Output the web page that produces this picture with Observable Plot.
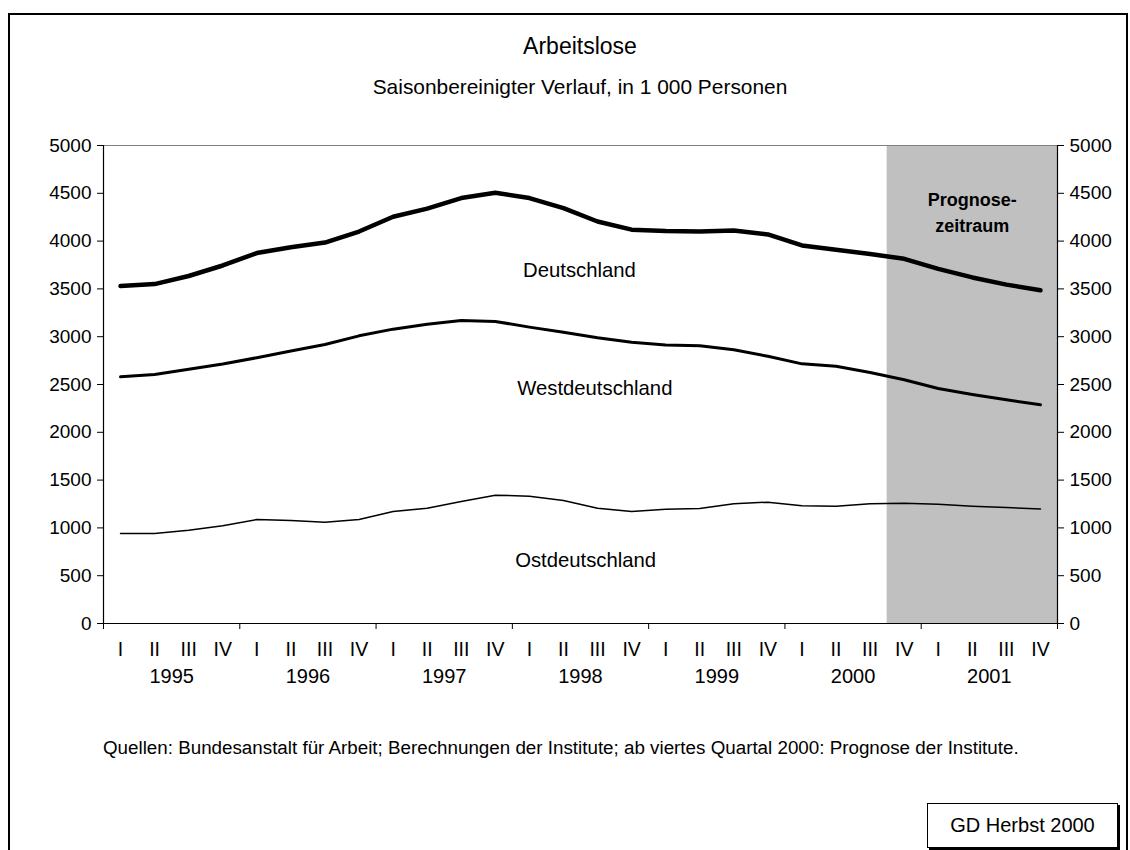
<!DOCTYPE html>
<html>
<head>
<meta charset="utf-8">
<script src="https://cdn.jsdelivr.net/npm/d3@7"></script>
<script src="https://cdn.jsdelivr.net/npm/@observablehq/plot@0.6"></script>
<style>
  html, body { margin: 0; padding: 0; background: #fff; overflow: hidden; }
  body { width: 1130px; height: 850px; position: relative; font-family: "Liberation Sans", Arial, sans-serif; color: #000; }
  #frame { position: absolute; left: 8px; top: 13px; width: 1120px; height: 900px; border: 2px solid #000; box-sizing: border-box; }
  #chart { position: absolute; left: 0; top: 0; }
  .title { position: absolute; left: 0; width: 1160px; text-align: center; }
  #t1 { top: 33px; font-size: 23px; }
  #t2 { top: 75px; font-size: 20.9px; }
  #caption { position: absolute; left: 103px; top: 737px; font-size: 18.8px; white-space: nowrap; }
  #stamp { position: absolute; left: 927px; top: 803px; width: 191px; height: 45px; box-sizing: border-box; border: 1px solid #000; background: #fff; box-shadow: 2px 2px 0 #000; font-size: 20px; text-align: center; line-height: 43px; }
</style>
</head>
<body>
<div id="frame"></div>
<div id="chart"></div>
<div class="title" id="t1">Arbeitslose</div>
<div class="title" id="t2">Saisonbereinigter Verlauf, in 1 000 Personen</div>
<div id="caption">Quellen: Bundesanstalt für Arbeit; Berechnungen der Institute; ab viertes Quartal 2000: Prognose der Institute.</div>
<div id="stamp">GD Herbst 2000</div>
<script>
// ---- data ----
const years = [1995, 1996, 1997, 1998, 1999, 2000, 2001];
const quarterNames = ["I", "II", "III", "IV"];
const deutschland = [3530, 3550, 3635, 3745, 3875, 3935, 3985, 4100, 4255, 4340, 4450, 4505, 4450, 4345, 4205, 4120, 4105, 4100, 4110, 4070, 3955, 3910, 3865, 3815, 3710, 3620, 3545, 3485];
const westdeutschland = [2580, 2605, 2660, 2715, 2780, 2850, 2918, 3009, 3079, 3131, 3169, 3160, 3100, 3047, 2990, 2943, 2912, 2905, 2863, 2795, 2716, 2690, 2625, 2550, 2458, 2395, 2340, 2288];
const ostdeutschland = [941, 941, 976, 1022, 1088, 1077, 1060, 1088, 1172, 1206, 1276, 1342, 1332, 1287, 1206, 1172, 1196, 1203, 1252, 1269, 1231, 1227, 1252, 1259, 1248, 1227, 1213, 1199];
const yTicks = [0, 500, 1000, 1500, 2000, 2500, 3000, 3500, 4000, 4500, 5000];
const forecastStart = {year: 2000, quarter: "IV"};
const seriesLabels = [
  {text: "Deutschland", q: 13.97, v: 3690},
  {text: "Westdeutschland", q: 14.42, v: 2460},
  {text: "Ostdeutschland", q: 14.15, v: 660}
];
const forecastLabel = {lines: ["Prognose-", "zeitraum"], q: 25.5, v: [4425, 4160]};

// ---- derived table ----
const rows = years.flatMap((yr, yi) => quarterNames.map((qn, qi) => {
  const i = yi * 4 + qi;
  return {i, x: i + 0.5, year: yr, q: qn, de: deutschland[i], west: westdeutschland[i], ost: ostdeutschland[i]};
}));
const nQ = rows.length;
const fStart = years.indexOf(forecastStart.year) * 4 + quarterNames.indexOf(forecastStart.quarter);
const yearBounds = years.map((_, i) => i * 4).concat([nQ]);
const yMax = yTicks[yTicks.length - 1];

const font = "Liberation Sans, Arial, sans-serif";

const chart = Plot.plot({
  width: 1130,
  height: 700,
  marginLeft: 103,
  marginRight: 73,
  marginTop: 145,
  marginBottom: 77,
  style: {fontFamily: font, fontSize: "19px", color: "#000", background: "transparent"},
  x: {type: "linear", domain: [0, nQ]},
  y: {domain: [0, yMax]},
  marks: [
    Plot.rect([{x1: fStart, x2: nQ}], {x1: "x1", x2: "x2", y1: 0, y2: yMax, fill: "#c0c0c0"}),
    Plot.ruleY([yMax], {stroke: "#808080", strokeWidth: 1}),
    Plot.ruleX([0, nQ], {stroke: "#000", strokeWidth: 1.2, y1: 0, y2: yMax}),
    Plot.ruleY([0], {stroke: "#000", strokeWidth: 1.2}),
    Plot.axisY({anchor: "left", ticks: yTicks, tickSize: 6, tickPadding: 6, label: null, fontSize: 19, tickFormat: d => String(d)}),
    Plot.axisY({anchor: "right", ticks: yTicks, tickSize: 6, tickPadding: 6, label: null, fontSize: 19, tickFormat: d => String(d)}),
    Plot.axisX({ticks: yearBounds, tickSize: 6, tickFormat: () => "", label: null}),
    Plot.text(rows, {x: "x", text: "q", frameAnchor: "bottom", dy: 26, fontSize: 19.5, lineAnchor: "middle"}),
    Plot.text(years, {x: (d, i) => i * 4 + 2, text: d => String(d), frameAnchor: "bottom", dy: 53, fontSize: 20, lineAnchor: "middle"}),
    Plot.line(rows, {x: "x", y: "ost", stroke: "#000", strokeWidth: 1.5, curve: "linear"}),
    Plot.line(rows, {x: "x", y: "west", stroke: "#000", strokeWidth: 3, curve: "linear"}),
    Plot.line(rows, {x: "x", y: "de", stroke: "#000", strokeWidth: 4.5, curve: "linear"}),
    Plot.text(seriesLabels, {x: "q", y: "v", text: "text", fontSize: 20.3, lineAnchor: "middle"}),
    Plot.text(forecastLabel.lines, {x: () => forecastLabel.q, y: (d, i) => forecastLabel.v[i], text: d => d, fontSize: 18, fontWeight: "bold", lineAnchor: "middle", style: "letter-spacing:1.2px"})
  ]
});
document.getElementById("chart").appendChild(chart);
</script>
</body>
</html>
